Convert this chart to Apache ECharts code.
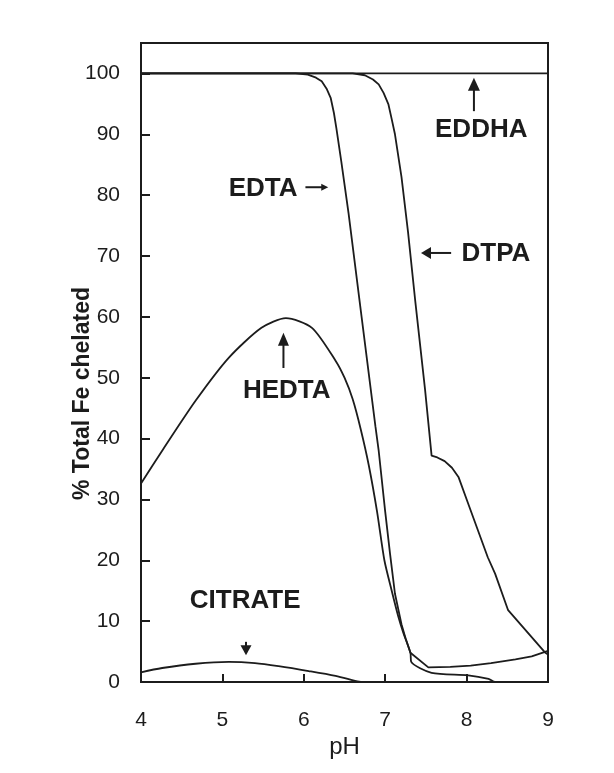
<!DOCTYPE html>
<html>
<head>
<meta charset="utf-8">
<script src="https://cdn.jsdelivr.net/npm/echarts@6/dist/echarts.min.js"></script>
<style>
  html, body { margin: 0; padding: 0; background: #ffffff; }
  #chart { width: 614px; height: 773px; }
</style>
</head>
<body>
<div id="chart"></div>
<script>
// ---- data ----
const xTicks = [4, 5, 6, 7, 8, 9];
const yTicks = [0, 10, 20, 30, 40, 50, 60, 70, 80, 90, 100];

const eddhaPH = [4, 9];
const eddhaVal = [100, 100];

const edtaPH  = [4, 5.9, 6.05, 6.15, 6.22, 6.28, 6.33, 6.37, 6.40, 6.46, 6.55, 6.71, 6.88, 6.92, 7.0, 7.06, 7.12, 7.2, 7.25, 7.31, 7.53, 7.8, 8.05, 8.3, 8.6, 8.8, 9.0];
const edtaVal = [100, 100, 99.8, 99.3, 98.7, 97.5, 96, 93.5, 91, 85.6, 77, 60, 42, 38, 28, 21, 14.5, 9.5, 7.2, 4.8, 2.4, 2.5, 2.7, 3.1, 3.7, 4.2, 5.1];

const dtpaPH  = [4, 6.6, 6.75, 6.85, 6.92, 6.98, 7.04, 7.08, 7.12, 7.2, 7.28, 7.37, 7.49, 7.57, 7.64, 7.73, 7.82, 7.9, 8.02, 8.14, 8.26, 8.35, 8.51, 8.96, 9];
const dtpaVal = [100, 100, 99.7, 99, 98.2, 96.8, 94.9, 92.5, 90, 83, 74, 62.5, 48, 37.2, 36.9, 36.3, 35.2, 33.7, 29.3, 24.9, 20.5, 17.8, 11.8, 4.9, 4.5];

const hedtaPH  = [4, 4.26, 4.67, 5.08, 5.48, 5.78, 6.1, 6.39, 6.5, 6.6, 6.7, 6.8, 6.9, 6.99, 7.08, 7.16, 7.22, 7.31, 7.32, 7.57, 8.02, 8.27, 8.35, 9];
const hedtaVal = [32.6, 38, 46.2, 53.3, 58.2, 59.8, 58.2, 52.8, 50, 46.5, 41.5, 35.5, 28, 20, 15, 10.8, 8.2, 4.8, 3.3, 1.5, 1.1, 0.5, 0, 0];

const citratePH  = [4, 4.26, 4.67, 5.08, 5.4, 5.69, 6.06, 6.39, 6.63, 6.7];
const citrateVal = [1.6, 2.3, 3.0, 3.3, 3.1, 2.6, 1.8, 1.0, 0.2, 0];

// annotations (data coordinates)
const annoLabels = ['EDDHA', 'EDTA', 'DTPA', 'HEDTA', 'CITRATE'];
const annoPH     = [8.18, 5.5, 8.36, 5.79, 5.28];
const annoVal    = [90.8, 81.1, 70.4, 47.9, 13.4];
const arrowFromPH  = [8.09, 6.02, 7.81, 5.75, 5.29];
const arrowFromVal = [93.8, 81.3, 70.5, 51.6, 6.6];
const arrowToPH    = [8.09, 6.30, 7.44, 5.75, 5.29];
const arrowToVal   = [99.3, 81.3, 70.5, 57.4, 4.4];
const arrowHeadLen = [13, 7, 10, 13, 10];
const arrowHeadHalf = [6, 3.5, 6, 5.5, 5.5];

const zip = (a, b) => a.map((v, i) => [v, b[i]]);

const INK = '#1c1c1c';
const FONT = '"Liberation Sans", Arial, Helvetica, sans-serif';

const chart = echarts.init(document.getElementById('chart'), null, { renderer: 'canvas' });

function lineSeries(name, data, smooth) {
  return {
    name: name, type: 'line', data: data, showSymbol: false, symbol: 'none',
    smooth: smooth || false,
    lineStyle: { color: INK, width: 1.8 },
    z: 3, silent: true
  };
}

const option = {
  backgroundColor: '#ffffff',
  animation: false,
  grid: { left: 141, right: 66, top: 43, bottom: 91, show: true, borderColor: INK, borderWidth: 2, backgroundColor: 'transparent' },
  xAxis: {
    type: 'value', min: 4, max: 9, interval: 1,
    name: 'pH', nameLocation: 'middle', nameGap: 53, nameMoveOverlap: false,
    nameTextStyle: { fontFamily: FONT, fontSize: 24, color: INK },
    axisLine: { show: true, lineStyle: { color: INK, width: 2 } },
    axisTick: { show: true, inside: true, length: 8, lineStyle: { color: INK, width: 2 } },
    axisLabel: { margin: 28, fontFamily: FONT, fontSize: 21, color: INK,
      formatter: v => (xTicks.indexOf(v) >= 0 ? String(v) : '') },
    splitLine: { show: false }
  },
  yAxis: {
    type: 'value', min: 0, max: 105, interval: 10,
    name: '% Total Fe chelated', nameLocation: 'middle', nameGap: 47, nameRotate: 90, nameMoveOverlap: false,
    nameTextStyle: { fontFamily: FONT, fontSize: 23, fontWeight: 'bold', color: INK, padding: [0, 62, 0, 0] },
    axisLine: { show: true, lineStyle: { color: INK, width: 2 } },
    axisTick: { show: true, inside: true, length: 9, lineStyle: { color: INK, width: 2 } },
    axisLabel: { margin: 21, fontFamily: FONT, fontSize: 21, color: INK, showMaxLabel: false,
      formatter: v => (yTicks.indexOf(v) >= 0 ? String(v) : '') },
    splitLine: { show: false }
  },
  series: [
    lineSeries('EDDHA', zip(eddhaPH, eddhaVal)),
    lineSeries('EDTA', zip(edtaPH, edtaVal)),
    lineSeries('DTPA', zip(dtpaPH, dtpaVal)),
    lineSeries('HEDTA', zip(hedtaPH, hedtaVal), 0.25),
    lineSeries('CITRATE', zip(citratePH, citrateVal), 0.3)
  ]
};
chart.setOption(option);

// annotations placed through the chart's own coordinate system
const graphics = [];
annoLabels.forEach((t, i) => {
  const p = chart.convertToPixel({ gridIndex: 0 }, [annoPH[i], annoVal[i]]);
  graphics.push({
    type: 'text', x: p[0], y: p[1], z: 10,
    style: { text: t, fill: INK, font: 'bold 26px ' + FONT, textAlign: 'center', textVerticalAlign: 'middle' }
  });
  const a = chart.convertToPixel({ gridIndex: 0 }, [arrowFromPH[i], arrowFromVal[i]]);
  const b = chart.convertToPixel({ gridIndex: 0 }, [arrowToPH[i], arrowToVal[i]]);
  const dx = b[0] - a[0], dy = b[1] - a[1];
  const len = Math.sqrt(dx * dx + dy * dy);
  const ux = dx / len, uy = dy / len;
  const hl = arrowHeadLen[i], hw = arrowHeadHalf[i];
  const base = [b[0] - ux * hl, b[1] - uy * hl];
  graphics.push({
    type: 'line', z: 10,
    shape: { x1: a[0], y1: a[1], x2: base[0] + ux * 1, y2: base[1] + uy * 1 },
    style: { stroke: INK, lineWidth: 2 }
  });
  graphics.push({
    type: 'polygon', z: 10,
    shape: { points: [[b[0], b[1]], [base[0] - uy * hw, base[1] + ux * hw], [base[0] + uy * hw, base[1] - ux * hw]] },
    style: { fill: INK }
  });
});
chart.setOption({ graphic: graphics });
</script>
</body>
</html>
